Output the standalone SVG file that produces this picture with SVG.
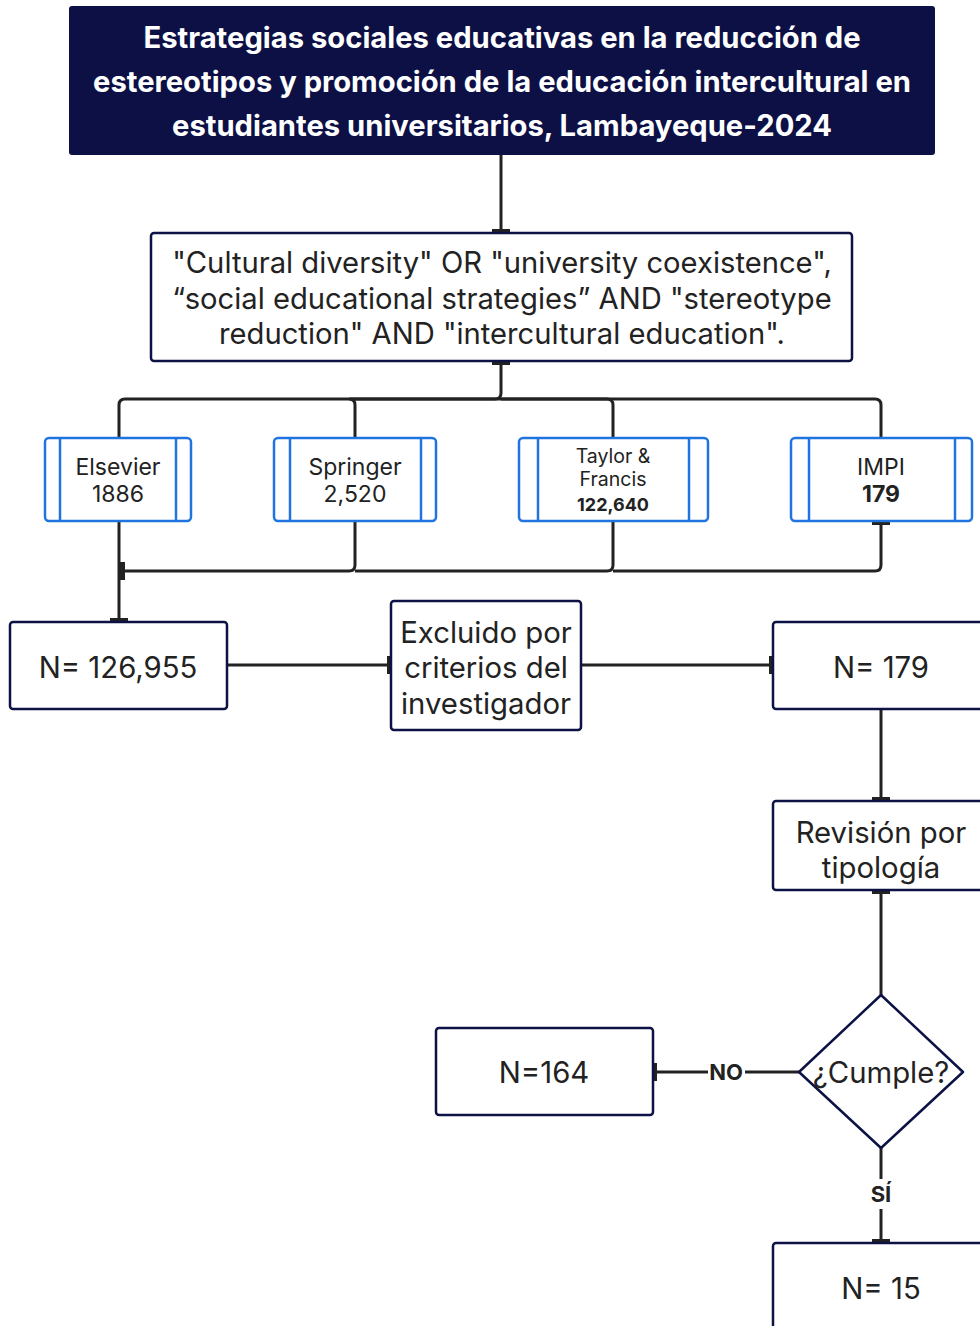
<svg xmlns="http://www.w3.org/2000/svg" width="980" height="1326" viewBox="0 0 980 1326">
<style>
text{font-family:Inter,"Noto Sans","Liberation Sans",sans-serif;fill:#222;text-anchor:middle;dominant-baseline:central}
.title{fill:#fff;font-weight:700;font-size:29.2px}
.q{font-size:29.2px}
.db{fill:#fff;stroke:#1f74e0;stroke-width:2.5}
.dbl{stroke:#1f74e0;stroke-width:2.5}
.dbt{font-size:23px}
.sm{font-size:19.5px}
.b{font-weight:700}
.sb{font-size:18px}
.box{fill:#fff;stroke:#0d1245;stroke-width:2.5}
.bt{font-size:29.3px}
.c{fill:none;stroke:#222;stroke-width:3}
.lbl{font-size:22px;font-weight:700}
</style>
<defs>
<marker id="tee" viewBox="0 0 5 18" refX="4" refY="9" markerWidth="5" markerHeight="18" markerUnits="userSpaceOnUse" orient="auto-start-reverse">
<rect x="0" y="0" width="5" height="18" fill="#222"/>
</marker>
</defs>
<g id="connectors">
<path class="c" d="M501 155 V233" marker-end="url(#tee)"/>
<path class="c" d="M501 361 V393 Q501 399 495 399 H125 Q119 399 119 405 V438" marker-start="url(#tee)"/>
<path class="c" d="M501 399 H349 Q355 399 355 405 V438"/>
<path class="c" d="M501 399 H607 Q613 399 613 405 V438"/>
<path class="c" d="M501 399 H875 Q881 399 881 405 V438"/>
<path class="c" d="M119 521 V622" marker-end="url(#tee)"/>
<path class="c" d="M355 521 V565 Q355 571 349 571 H121" marker-end="url(#tee)"/>
<path class="c" d="M613 521 V565 Q613 571 607 571 H355"/>
<path class="c" d="M881 521 V565 Q881 571 875 571 H613" marker-start="url(#tee)"/>
<path class="c" d="M227 665 H391" marker-end="url(#tee)"/>
<path class="c" d="M581 665 H773" marker-end="url(#tee)"/>
<path class="c" d="M881 709 V801" marker-end="url(#tee)"/>
<path class="c" d="M881 890 V995" marker-start="url(#tee)"/>
<path class="c" d="M799 1072 H653" marker-end="url(#tee)"/>
<path class="c" d="M881 1148 V1243" marker-end="url(#tee)"/>
<rect x="708" y="1060" width="37" height="24" fill="#fff"/>
<text class="lbl" x="726" y="1072">NO</text>
<rect x="868" y="1179" width="26" height="30" fill="#fff"/>
<text class="lbl" x="881" y="1194">SÍ</text>
</g>
<g id="title">
<rect x="69" y="6" width="866" height="149" rx="3" fill="#0c1045"/>
<text class="title" x="502" y="37">Estrategias sociales educativas en la reducción de</text>
<text class="title" x="502" y="81">estereotipos y promoción de la educación intercultural en</text>
<text class="title" x="502" y="125">estudiantes universitarios, Lambayeque-2024</text>
</g>
<g id="query">
<rect class="box" x="151" y="233" width="701" height="128" rx="3"/>
<text class="q" x="502" y="262">"Cultural diversity" OR "university coexistence",</text>
<text class="q" x="502" y="298">“social educational strategies” AND "stereotype</text>
<text class="q" x="502" y="333">reduction" AND "intercultural education".</text>
</g>
<g id="elsevier">
<rect class="db" x="45" y="438" width="146" height="83" rx="4"/>
<line class="dbl" x1="60" y1="438" x2="60" y2="521"/>
<line class="dbl" x1="176" y1="438" x2="176" y2="521"/>
<text class="dbt" x="118" y="467">Elsevier</text>
<text class="dbt" x="118" y="494">1886</text>
</g>
<g id="springer">
<rect class="db" x="274" y="438" width="162" height="83" rx="4"/>
<line class="dbl" x1="290" y1="438" x2="290" y2="521"/>
<line class="dbl" x1="421" y1="438" x2="421" y2="521"/>
<text class="dbt" x="355" y="467">Springer</text>
<text class="dbt" x="355" y="494">2,520</text>
</g>
<g id="taylor">
<rect class="db" x="519" y="438" width="189" height="83" rx="4"/>
<line class="dbl" x1="538" y1="438" x2="538" y2="521"/>
<line class="dbl" x1="689" y1="438" x2="689" y2="521"/>
<text class="sm" x="613" y="456">Taylor &amp;</text>
<text class="sm" x="613" y="479">Francis</text>
<text class="sb b" x="613" y="504">122,640</text>
</g>
<g id="impi">
<rect class="db" x="791" y="438" width="181" height="83" rx="4"/>
<line class="dbl" x1="809" y1="438" x2="809" y2="521"/>
<line class="dbl" x1="955" y1="438" x2="955" y2="521"/>
<text class="dbt" x="881" y="467">IMPI</text>
<text class="dbt b" x="881" y="494">179</text>
</g>
<g id="n126955">
<rect class="box" x="10" y="622" width="217" height="87" rx="3"/>
<text class="bt" x="118" y="667">N= 126,955</text>
</g>
<g id="excluido">
<rect class="box" x="391" y="601" width="190" height="129" rx="3"/>
<text class="bt" x="486" y="632">Excluido por</text>
<text class="bt" x="486" y="667">criterios del</text>
<text class="bt" x="486" y="703">investigador</text>
</g>
<g id="n179">
<rect class="box" x="773" y="622" width="215" height="87" rx="3"/>
<text class="bt" x="881" y="667">N= 179</text>
</g>
<g id="revision">
<rect class="box" x="773" y="801" width="215" height="89" rx="3"/>
<text class="bt" x="881" y="832">Revisión por</text>
<text class="bt" x="881" y="867">tipología</text>
</g>
<g id="cumple">
<path class="box" d="M881 995 L963 1072 L881 1148 L799 1072 Z" stroke-linejoin="round"/>
<text class="bt" x="881" y="1072">¿Cumple?</text>
</g>
<g id="n164">
<rect class="box" x="436" y="1028" width="217" height="87" rx="3"/>
<text class="bt" x="544" y="1072">N=164</text>
</g>
<g id="n15">
<rect class="box" x="773" y="1243" width="215" height="100" rx="3"/>
<text class="bt" x="881" y="1288">N= 15</text>
</g>
</svg>
